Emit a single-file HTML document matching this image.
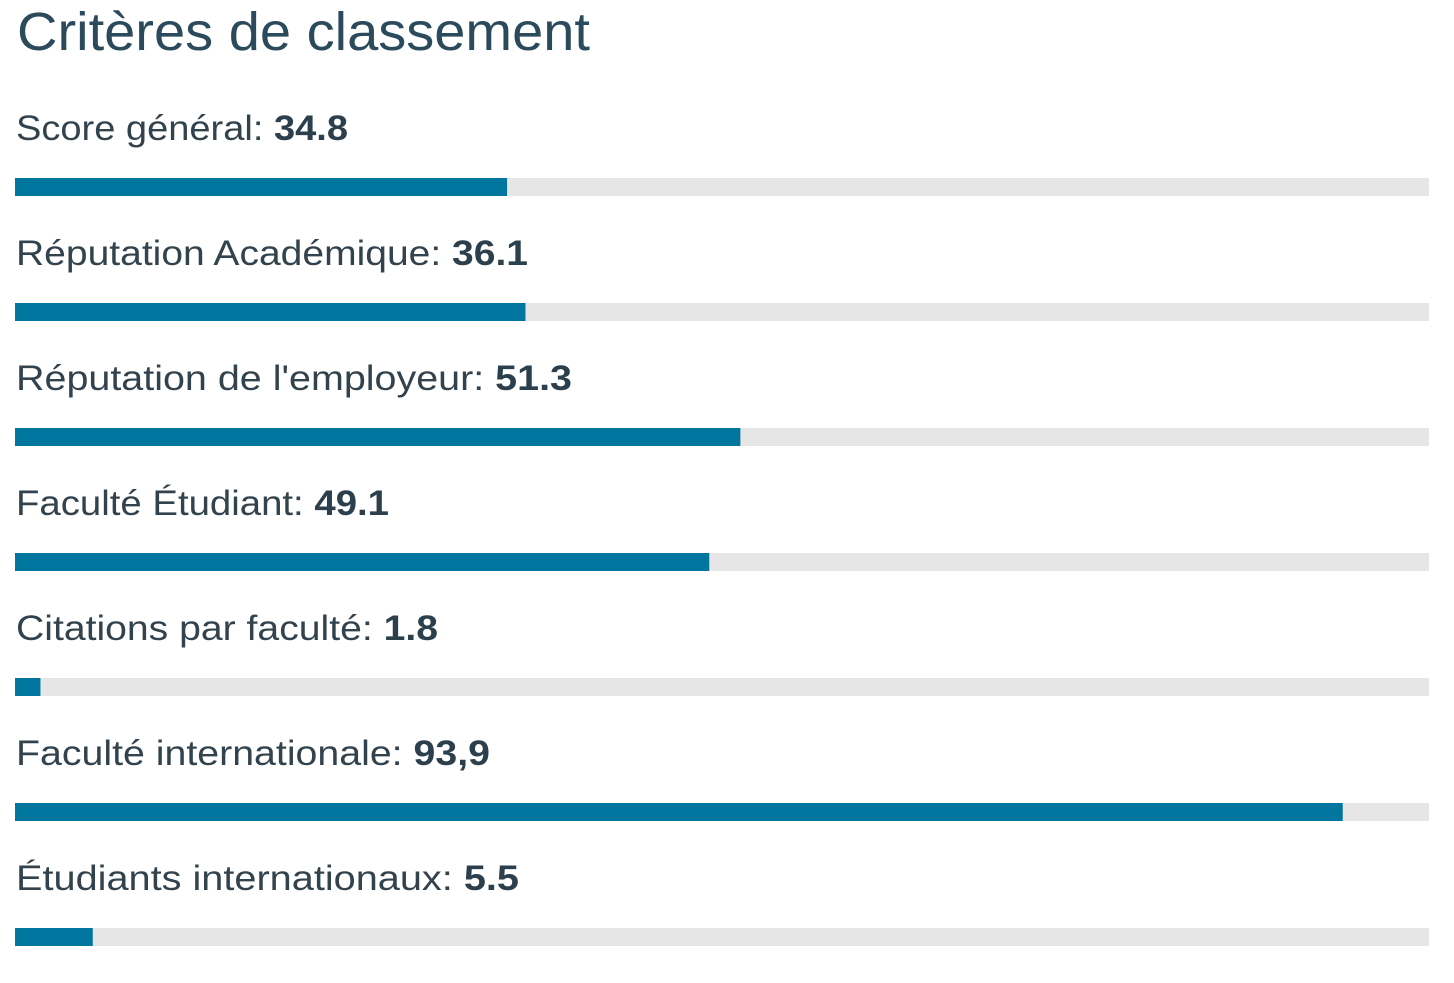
<!DOCTYPE html>
<html><head><meta charset="utf-8"><style>
html,body{margin:0;padding:0;background:#fff;width:1454px;height:983px;overflow:hidden}
svg{display:block}
</style></head><body>
<svg id="chart" width="1454" height="983" xmlns="http://www.w3.org/2000/svg">
<text x="17" y="50" font-family="Liberation Sans, sans-serif" font-size="54" fill="#2b4a5c" textLength="573" lengthAdjust="spacingAndGlyphs">Critères de classement</text>
</svg>
<script>
const categories = ["Score général", "Réputation Académique", "Réputation de l'employeur", "Faculté Étudiant", "Citations par faculté", "Faculté internationale", "Étudiants internationaux"];
const values = [34.8, 36.1, 51.3, 49.1, 1.8, 93.9, 5.5];
const valueLabels = ["34.8", "36.1", "51.3", "49.1", "1.8", "93,9", "5.5"];
const labelWidths = [332, 512, 556, 373, 422, 474, 503];

const svg = document.getElementById('chart');
const NS = 'http://www.w3.org/2000/svg';
const x0 = 15, trackW = 1414, rowH = 125, barTop = 178, barH = 18, labelBase = 140;
const xScale = v => trackW * v / 100;

categories.forEach((c, i) => {
  const g = document.createElementNS(NS, 'g');
  
  
  const t = document.createElementNS(NS, 'text');
  
  
  t.setAttribute('x', 16);
  t.setAttribute('y', labelBase + i * rowH);
  t.setAttribute('font-family', 'Liberation Sans, sans-serif');
  t.setAttribute('font-size', '35');
  t.setAttribute('fill', '#33434e');
  t.setAttribute('textLength', labelWidths[i]);
  t.setAttribute('lengthAdjust', 'spacingAndGlyphs');
  t.appendChild(document.createTextNode(c + ': '));
  const b = document.createElementNS(NS, 'tspan');
  b.setAttribute('font-weight', 'bold');
  b.setAttribute('fill', '#2b3f4c');
  b.textContent = valueLabels[i];
  t.appendChild(b);
  g.appendChild(t);

  const track = document.createElementNS(NS, 'rect');
  
  
  track.setAttribute('x', x0);
  track.setAttribute('y', barTop + i * rowH);
  track.setAttribute('width', trackW);
  track.setAttribute('height', barH);
  track.setAttribute('fill', '#e6e6e6');
  g.appendChild(track);

  const fill = document.createElementNS(NS, 'rect');
  
  
  fill.setAttribute('x', x0);
  fill.setAttribute('y', barTop + i * rowH);
  fill.setAttribute('width', xScale(values[i]));
  fill.setAttribute('height', barH);
  fill.setAttribute('fill', '#00769e');
  g.appendChild(fill);
  svg.appendChild(g);
});
</script>
</body></html>
